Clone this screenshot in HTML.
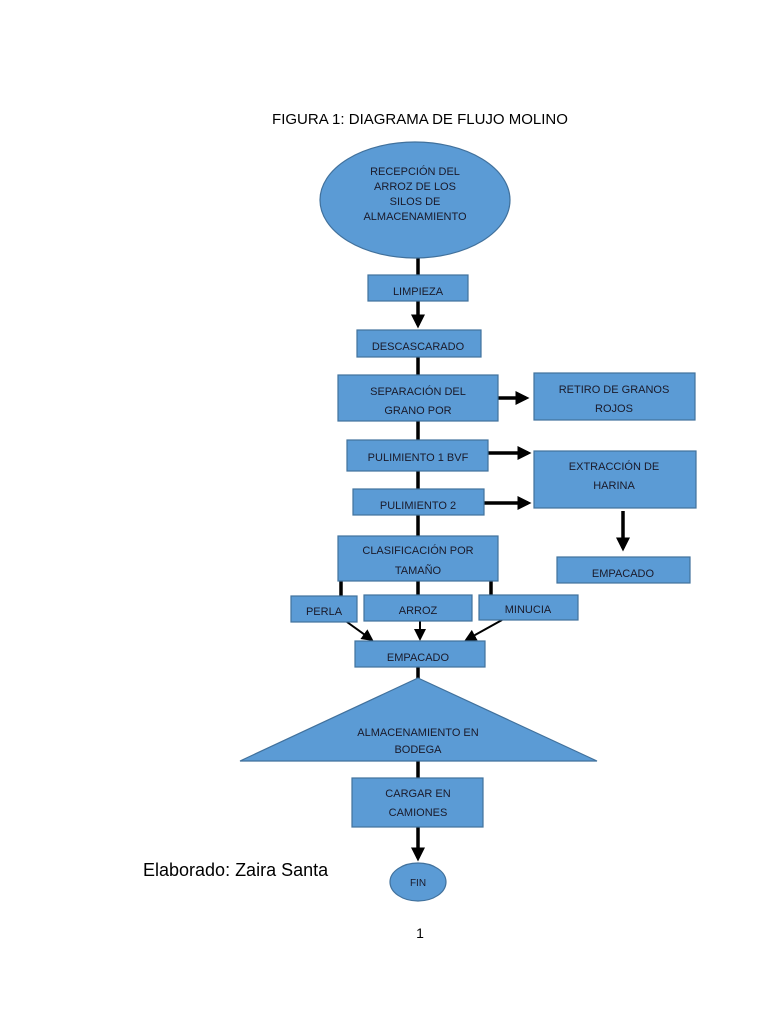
<!DOCTYPE html>
<html><head><meta charset="utf-8"><style>
body{margin:0;background:#fff;}
svg text{font-family:"Liberation Sans",sans-serif;}
</style></head><body>
<svg width="768" height="1024" viewBox="0 0 768 1024" xmlns="http://www.w3.org/2000/svg">
<defs><marker id="a" markerWidth="4" markerHeight="4" refX="3" refY="2" orient="auto"><path d="M0,0 L4,2 L0,4z" fill="#000"/></marker>
<marker id="b" markerWidth="6" markerHeight="6" refX="5" refY="3" orient="auto"><path d="M0,0 L6,3 L0,6z" fill="#000"/></marker></defs>
<text x="420" y="124" font-size="15" text-anchor="middle">FIGURA 1: DIAGRAMA DE FLUJO MOLINO</text>
<g stroke="#000" stroke-width="3.5" fill="none">
<line x1="418" y1="258" x2="418" y2="275"/>
<line x1="418" y1="301" x2="418" y2="325" marker-end="url(#a)"/>
<line x1="418" y1="357" x2="418" y2="375"/>
<line x1="418" y1="421" x2="418" y2="440"/>
<line x1="418" y1="471" x2="418" y2="489"/>
<line x1="418" y1="515" x2="418" y2="536"/>
<line x1="498" y1="398" x2="526" y2="398" marker-end="url(#a)"/>
<line x1="488" y1="453" x2="528" y2="453" marker-end="url(#a)"/>
<line x1="484" y1="503" x2="528" y2="503" marker-end="url(#a)"/>
<line x1="623" y1="511" x2="623" y2="548" marker-end="url(#a)"/>
<line x1="341" y1="581" x2="341" y2="596"/>
<line x1="418" y1="581" x2="418" y2="595"/>
<line x1="491" y1="581" x2="491" y2="595"/>
<line x1="418" y1="667" x2="418" y2="680"/>
<line x1="418" y1="761" x2="418" y2="778"/>
<line x1="418" y1="827" x2="418" y2="858" marker-end="url(#a)"/>
</g>
<g stroke="#000" stroke-width="2" fill="none">
<line x1="347" y1="622" x2="372" y2="640" marker-end="url(#b)"/>
<line x1="420" y1="621" x2="420" y2="639" marker-end="url(#b)"/>
<line x1="502" y1="620" x2="466" y2="640" marker-end="url(#b)"/>
</g>
<g fill="#5b9bd5" stroke="#41719c" stroke-width="1.2">
<ellipse cx="415" cy="200" rx="95" ry="58"/>
<rect x="368" y="275" width="100" height="26"/>
<rect x="357" y="330" width="124" height="27"/>
<rect x="338" y="375" width="160" height="46"/>
<rect x="534" y="373" width="161" height="47"/>
<rect x="347" y="440" width="141" height="31"/>
<rect x="534" y="451" width="162" height="57"/>
<rect x="353" y="489" width="131" height="26"/>
<rect x="338" y="536" width="160" height="45"/>
<rect x="557" y="557" width="133" height="26"/>
<rect x="291" y="596" width="66" height="26"/>
<rect x="364" y="595" width="108" height="26"/>
<rect x="479" y="595" width="99" height="25"/>
<rect x="355" y="641" width="130" height="26"/>
<polygon points="418,678 597,761 240,761"/>
<rect x="352" y="778" width="131" height="49"/>
<ellipse cx="418" cy="882" rx="28" ry="19"/>
</g>
<g font-size="11" fill="#1a1a2a" text-anchor="middle">
<text x="415" y="175">RECEPCIÓN DEL</text>
<text x="415" y="190">ARROZ DE LOS</text>
<text x="415" y="205">SILOS DE</text>
<text x="415" y="220">ALMACENAMIENTO</text>
<text x="418" y="295">LIMPIEZA</text>
<text x="418" y="350">DESCASCARADO</text>
<text x="418" y="395">SEPARACIÓN DEL</text>
<text x="418" y="414">GRANO POR</text>
<text x="614" y="393">RETIRO DE GRANOS</text>
<text x="614" y="412">ROJOS</text>
<text x="418" y="461">PULIMIENTO 1 BVF</text>
<text x="614" y="470">EXTRACCIÓN DE</text>
<text x="614" y="489">HARINA</text>
<text x="418" y="509">PULIMIENTO 2</text>
<text x="418" y="554">CLASIFICACIÓN POR</text>
<text x="418" y="574">TAMAÑO</text>
<text x="623" y="577">EMPACADO</text>
<text x="324" y="615">PERLA</text>
<text x="418" y="614">ARROZ</text>
<text x="528" y="613">MINUCIA</text>
<text x="418" y="661">EMPACADO</text>
<text x="418" y="736">ALMACENAMIENTO EN</text>
<text x="418" y="753">BODEGA</text>
<text x="418" y="797">CARGAR EN</text>
<text x="418" y="816">CAMIONES</text>
<text x="418" y="886" font-size="10">FIN</text>
</g>
<text x="143" y="876" font-size="18">Elaborado: Zaira Santa</text>
<text x="420" y="938" font-size="14" text-anchor="middle">1</text>
</svg>
</body></html>
